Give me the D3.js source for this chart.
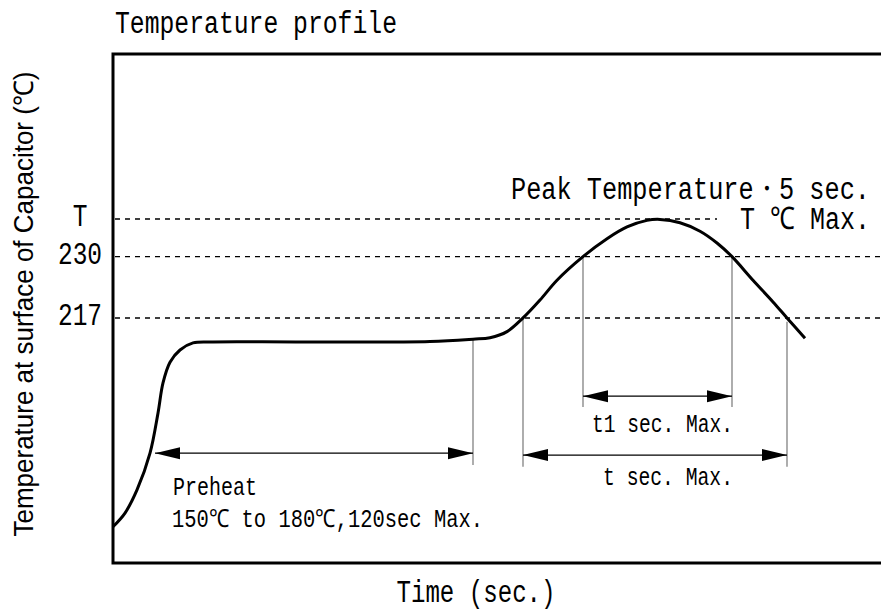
<!DOCTYPE html>
<html>
<head>
<meta charset="utf-8">
<script src="https://cdn.jsdelivr.net/npm/d3@7"></script>
<style>
  body { margin: 0; background: #fff; }
  svg { display: block; }
  text { fill: #000; }
</style>
</head>
<body>
<div id="chart"></div>
<script>
// Reflow profile (time in s, temperature in degC, drawing not to scale)
const timeSec = [0, 6, 12, 18.5, 22.5, 25, 28.5, 33.5, 40, 50, 93.5, 158.5, 180, 188.5, 197, 205,
                 213.5, 222, 235, 247, 257, 267, 273.5, 283.5, 293.5, 302, 309.5, 320, 330, 337, 346];
const tempC   = [172.7, 175.6, 180.5, 188.3, 196.8, 203.2, 207.6, 210.2, 211.7, 211.9, 211.9, 212.0, 212.5, 212.8, 214.1, 217.0,
                 220.8, 225.0, 230.0, 233.8, 236.3, 237.7, 237.9, 237.2, 235.4, 232.9, 230.0, 225.0, 220.4, 217.0, 212.7];

// reference levels
const levelLabels = ["T", "230", "217"];
const levelValues = [238, 230, 217];
const levelEnds   = [302, null, null];   // time where dashed line stops (null = to the edge)

// spans (dimension arrows): [start, end, temperature of the arrow row]
const preheatSpan = [21, 180, 188.3];
const t1Span      = [235, 309.5, 200.4];
const tSpan       = [205, 337, 187.9];

// thin extension lines: [time, from temp, to temp]
const guides = [
  [180, 212.5, 185.8],
  [205, 217.0, 185.4],
  [235, 230.0, 198.1],
  [309.5, 230.0, 198.1],
  [337, 216.2, 185.4]
];

const titleText = "Temperature profile";
const yTitle = "Temperature at surface of Capacitor (\u2103)";
const xTitle = "Time (sec.)";

const width = 881, height = 610;
const margin = { top: 54, left: 113, bottom: 47 };
const mono = "'Liberation Mono', 'DejaVu Sans Mono', monospace";

const svg = d3.select("#chart").append("svg")
  .attr("width", width)
  .attr("height", height);

const x = d3.scaleLinear().domain([0, 400]).range([margin.left, margin.left + 800]);
const y = d3.scaleLinear().domain([165, 273]).range([height - margin.bottom, margin.top]);

// arrow heads
const defs = svg.append("defs");
defs.append("marker")
  .attr("id", "head")
  .attr("markerUnits", "userSpaceOnUse")
  .attr("markerWidth", 25)
  .attr("markerHeight", 13)
  .attr("refX", 25)
  .attr("refY", 6.5)
  .attr("orient", "auto-start-reverse")
  .append("path")
  .attr("d", "M0,0.5 L25,6.5 L0,12.5 Z")
  .attr("fill", "#000");

// dashed level lines
levelValues.forEach((v, i) => {
  const xEnd = levelEnds[i] == null ? width : x(levelEnds[i]);
  svg.append("line")
    .attr("x1", x(0) + 2).attr("x2", xEnd)
    .attr("y1", y(v)).attr("y2", y(v))
    .attr("stroke", "#000")
    .attr("stroke-width", 1.4)
    .attr("stroke-dasharray", "5,5");
  svg.append("text")
    .attr("x", 80)
    .attr("y", y(v) + 7)
    .attr("text-anchor", "middle")
    .attr("font-family", mono)
    .attr("font-size", 31)
    .attr("textLength", levelLabels[i].length * 14.7)
    .attr("lengthAdjust", "spacingAndGlyphs")
    .text(levelLabels[i]);
});

// extension lines
svg.append("g").selectAll("line")
  .data(guides)
  .join("line")
  .attr("x1", d => x(d[0])).attr("x2", d => x(d[0]))
  .attr("y1", d => y(d[1])).attr("y2", d => y(d[2]))
  .attr("stroke", "#777")
  .attr("stroke-width", 1.2);

// dimension arrows
[preheatSpan, t1Span, tSpan].forEach(s => {
  svg.append("line")
    .attr("x1", x(s[0])).attr("x2", x(s[1]))
    .attr("y1", y(s[2])).attr("y2", y(s[2]))
    .attr("stroke", "#000")
    .attr("stroke-width", 1.3)
    .attr("marker-start", "url(#head)")
    .attr("marker-end", "url(#head)");
});

// the profile curve
const pts = timeSec.map((t, i) => [t, tempC[i]]);
svg.append("path")
  .datum(pts)
  .attr("fill", "none")
  .attr("stroke", "#000")
  .attr("stroke-width", 3)
  .attr("stroke-linejoin", "round")
  .attr("d", d3.line()
    .x(d => x(d[0]))
    .y(d => y(d[1]))
    .curve(d3.curveCatmullRom.alpha(0.5)));

// frame
svg.append("rect")
  .attr("x", x(0)).attr("y", y(273))
  .attr("width", x(400) - x(0))
  .attr("height", y(165) - y(273))
  .attr("fill", "none")
  .attr("stroke", "#000")
  .attr("stroke-width", 3);

// texts
function label(str, px, py, size, len, anchor) {
  return svg.append("text")
    .attr("x", px).attr("y", py)
    .attr("text-anchor", anchor || "start")
    .attr("font-family", mono)
    .attr("font-size", size)
    .attr("textLength", len)
    .attr("lengthAdjust", "spacingAndGlyphs")
    .text(str);
}

label(titleText, 115, 33, 31, 282);
label("Peak Temperature\u30FB5 sec.", x(378.5), y(242.2), 31, 359, "end");
label("T \u2103 Max.", x(378.5), y(235.9), 31, 130, "end");
label("Preheat", x(30), y(179.4), 25, 84);
label("150\u2103 to 180\u2103,120sec Max.", x(29.5), y(172.6), 25, 311);
label("t1 sec. Max.", x(274.75), y(192.8), 25, 141, "middle");
label("t sec. Max.", x(277.5), y(181.5), 25, 130, "middle");
label(xTitle, 476, 602, 31, 159, "middle");

svg.append("text")
  .attr("transform", "translate(33,304) rotate(-90)")
  .attr("text-anchor", "middle")
  .attr("font-family", "'Liberation Sans Narrow', 'Liberation Sans', Arial, sans-serif")
  .attr("font-size", 27)
  .attr("textLength", 465)
  .attr("lengthAdjust", "spacingAndGlyphs")
  .text(yTitle);
</script>
</body>
</html>
